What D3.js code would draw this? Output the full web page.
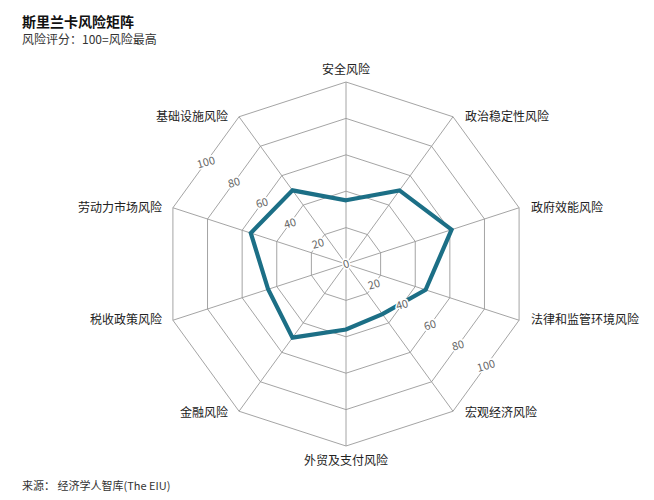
<!DOCTYPE html>
<html>
<head>
<meta charset="utf-8">
<script src="https://cdn.jsdelivr.net/npm/d3@7/dist/d3.min.js"></script>
<style>
  body { margin: 0; background: #fff; }
  text { font-family: "Noto Sans CJK SC", "Noto Sans", sans-serif; }
</style>
</head>
<body>
<div id="chart"></div>
<script>
// axes clockwise from the top
const categories = ["安全风险", "政治稳定性风险", "政府效能风险", "法律和监管环境风险", "宏观经济风险",
                    "外贸及支付风险", "金融风险", "税收政策风险", "劳动力市场风险", "基础设施风险"];
const scores = [35, 50, 61, 46, 34, 36, 50, 45, 55, 50];
const ringTicks = [20, 40, 60, 80, 100];
const tickLabels = [0, 20, 40, 60, 80, 100];

const width = 654, height = 500;
const cx = 346, cy = 264, R = 182;

const svg = d3.select("#chart")
    .append("svg")
    .attr("width", width)
    .attr("height", height);

const r = d3.scaleLinear().domain([0, 100]).range([0, R]);
const angle = d3.scaleLinear().domain([0, categories.length]).range([0, 2 * Math.PI]);

function pt(i, v) {
    const a = angle(i);
    return [cx + Math.sin(a) * r(v), cy - Math.cos(a) * r(v)];
}

const g = svg.append("g");

// rings
ringTicks.forEach(function(t) {
    g.append("polygon")
        .attr("points", categories.map((c, i) => pt(i, t).join(",")).join(" "))
        .attr("fill", "none")
        .attr("stroke", "#9a9a9a")
        .attr("stroke-width", 0.9);
});

// spokes
g.selectAll(".spoke")
    .data(categories)
    .enter().append("line")
    .attr("class", "spoke")
    .attr("x1", cx).attr("y1", cy)
    .attr("x2", (d, i) => pt(i, 100)[0])
    .attr("y2", (d, i) => pt(i, 100)[1])
    .attr("stroke", "#9a9a9a")
    .attr("stroke-width", 0.9);

// data line
const line = d3.line().curve(d3.curveLinearClosed);
g.append("path")
    .attr("d", line(scores.map((v, i) => pt(i, v))))
    .attr("fill", "none")
    .attr("stroke", "#1c6f86")
    .attr("stroke-width", 4.2)
    .attr("stroke-linejoin", "miter");

// tick labels along two bisectors (between axes 8/9 and 3/4)
function tickAt(pos, v) {
    const a = angle(pos);
    const d = r(v) * Math.cos(Math.PI / categories.length);
    return [cx + Math.sin(a) * d, cy - Math.cos(a) * d];
}
[[8.5, tickLabels], [3.5, tickLabels.slice(1)]].forEach(function(set) {
    set[1].forEach(function(v) {
        const p = tickAt(set[0], v);
        g.append("text")
            .attr("transform", `translate(${p[0]},${p[1]}) rotate(-16)`)
            .attr("text-anchor", "middle")
            .attr("dy", "0.35em")
            .attr("font-size", 11)
            .attr("fill", "#666")
            .attr("stroke", "#fff")
            .attr("stroke-width", 3)
            .attr("paint-order", "stroke")
            .text(v);
    });
});

// category labels
g.selectAll(".cat")
    .data(categories)
    .enter().append("text")
    .attr("class", "cat")
    .attr("x", (d, i) => {
        const p = pt(i, 100);
        const s = Math.sin(angle(i));
        return p[0] + (Math.abs(s) < 0.01 ? 0 : (s > 0 ? 12 : -11));
    })
    .attr("y", (d, i) => {
        const p = pt(i, 100);
        const c = Math.cos(angle(i));
        if (Math.abs(Math.sin(angle(i))) < 0.01) return p[1] + (c > 0 ? -12 : 15);
        return p[1] + (c < -0.5 ? 2 : 0);
    })
    .attr("dy", "0.35em")
    .attr("text-anchor", (d, i) => {
        const s = Math.sin(angle(i));
        return Math.abs(s) < 0.01 ? "middle" : (s > 0 ? "start" : "end");
    })
    .attr("font-size", 12)
    .attr("fill", "#222")
    .text(d => d);

// title, subtitle, source
svg.append("text")
    .attr("x", 22).attr("y", 27)
    .attr("font-size", 14)
    .attr("font-weight", "bold")
    .attr("fill", "#111")
    .text("斯里兰卡风险矩阵");

svg.append("text")
    .attr("x", 22).attr("y", 44)
    .attr("font-size", 12)
    .attr("fill", "#333")
    .text("风险评分：100=风险最高");

svg.append("text")
    .attr("x", 22).attr("y", 490)
    .attr("font-size", 11)
    .attr("fill", "#333")
    .text("来源：  经济学人智库(The EIU)");
</script>
</body>
</html>
